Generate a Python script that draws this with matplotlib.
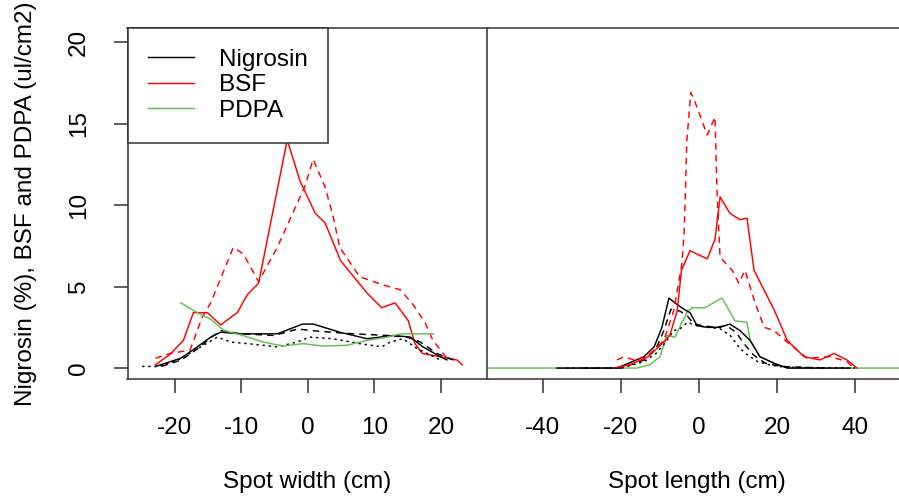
import matplotlib
matplotlib.use("Agg")
import matplotlib.pyplot as plt
from matplotlib.lines import Line2D

# ---- data ----
# left panel: across the spot (cm)
w_nig1_x = [-22.9, -19.1, -16.6, -14.6, -13.1, -10.1, -4.6, -0.8, 0.8, 4.8, 8.9, 12.8, 15.4, 17.3, 19.9, 20.9]
w_nig1_y = [0.1, 0.6, 1.3, 1.9, 2.2, 2.1, 2.1, 2.7, 2.7, 2.2, 1.8, 2.0, 1.9, 1.3, 0.7, 0.5]
w_nig2_x = [-22.0, -19.0, -16.5, -14.5, -13.0, -10.0, -5.0, -1.5, 0.5, 3.5, 6.9, 11.9, 14.9, 16.9, 19.4, 21.8]
w_nig2_y = [0.1, 0.5, 1.2, 1.9, 2.3, 2.1, 2.0, 2.4, 2.3, 2.2, 2.1, 2.0, 1.9, 1.6, 0.9, 0.5]
w_nig3_x = [-24.9, -22.5, -19.5, -16.5, -13.6, -11.6, -6.7, -4.6, -1.6, 0.3, 3.8, 7.8, 11.1, 12.4, 14.3, 16.4, 17.9, 19.9]
w_nig3_y = [0.1, 0.1, 0.5, 1.2, 1.9, 1.6, 1.4, 1.3, 1.6, 1.9, 1.8, 1.5, 1.3, 1.6, 1.8, 1.2, 0.9, 0.5]
w_bsf1_x = [-22.9, -20.7, -18.7, -17.2, -15.1, -13.1, -10.6, -9.1, -7.4, -3.1, -1.2, 1.1, 2.6, 4.9,
            8.9, 11.1, 13.1, 15.1, 16.1, 17.2, 22.4, 23.2]
w_bsf1_y = [0.2, 0.85, 1.7, 3.4, 3.4, 2.65, 3.4, 4.5, 5.2, 14.0, 11.5, 9.5, 8.9, 6.6,
            4.6, 3.7, 4.0, 2.9, 1.5, 0.9, 0.5, 0.2]
w_bsf2_x = [-22.9, -20.7, -17.7, -15.9, -14.6, -13.4, -11.2, -9.7, -7.4, -4.6, -1.6, -0.4, 0.8, 2.6,
            3.8, 4.8, 7.8, 11.3, 13.9, 15.8, 17.6, 18.8, 20.9, 22.1]
w_bsf2_y = [0.6, 0.9, 1.1, 3.1, 4.0, 5.2, 7.4, 7.0, 5.3, 7.4, 10.1, 11.2, 12.8, 11.1,
            9.3, 7.4, 5.6, 5.1, 4.8, 3.9, 2.8, 1.7, 0.6, 0.5]
w_pdpa_x = [-19.1, -16.6, -14.6, -12.6, -10.6, -6.7, -3.7, -0.7, 2.3, 5.9, 8.9, 11.9, 13.9, 18.9]
w_pdpa_y = [4.0, 3.4, 3.0, 2.3, 2.1, 1.6, 1.35, 1.5, 1.35, 1.4, 1.7, 1.9, 2.1, 2.1]

# right panel: along the spot (cm)
l_nig1_x = [-36.4, -21, -14.1, -11.5, -9.5, -7.7, -6.2, -3.8, -2.3, -0.5, 2.1, 5.4, 7.9, 10.5,
            13.1, 15.6, 19.2, 22.6, 38.7]
l_nig1_y = [0, 0, 0.7, 1.3, 2.5, 4.3, 4.0, 3.6, 3.4, 2.6, 2.5, 2.5, 2.7, 2.3,
            1.7, 0.7, 0.3, 0, 0]
l_nig2_x = [-30, -20, -14, -11, -9, -7.2, -4.9, -3, -1.3, 1, 4, 7, 9.5, 11.5, 14, 17, 21, 32]
l_nig2_y = [0, 0, 0.5, 1.2, 2.3, 3.6, 3.5, 3.2, 2.7, 2.6, 2.5, 2.6, 2.2, 1.5, 0.8, 0.3, 0.1, 0]
l_nig3_x = [-34, -20, -14, -11, -8.5, -6.5, -4.9, -3, -0.5, 2.5, 5.5, 8, 10.5, 12.5, 15, 18, 22, 40]
l_nig3_y = [0, 0, 0.4, 0.9, 1.6, 2.3, 2.4, 2.8, 2.6, 2.5, 2.4, 2.0, 1.2, 0.8, 0.4, 0.2, 0.05, 0]
l_bsf1_x = [-21, -17.7, -13, -9.5, -7.5, -5.6, -4.5, -2.3, 2.1, 4.1, 5.4, 7.9, 10.5, 12.3, 14.1,
            19.2, 22.6, 26.9, 31.0, 34.6, 37.9, 40.5]
l_bsf1_y = [0.05, 0.2, 0.7, 1.5, 2.0, 3.5, 6.0, 7.2, 6.7, 7.9, 10.5, 9.5, 9.1, 9.2, 6.0,
            3.6, 1.7, 0.7, 0.5, 0.9, 0.5, 0]
l_bsf2_x = [-21, -19.2, -16.7, -13.3, -9, -6.5, -4.4, -3.8, -3.1, -2.1, -1.0, 2.1, 4.1, 4.6, 5.4,
            8.5, 10.2, 11.8, 14.1, 16.7, 19.2, 22.6, 27.7, 33.6, 37.9, 39.7]
l_bsf2_y = [0.5, 0.7, 0.5, 0.7, 1.7, 3.5, 6.4, 8.3, 14.0, 16.9, 16.3, 14.3, 15.4, 10.9, 6.8,
            6.0, 5.2, 6.0, 4.2, 2.5, 2.3, 1.6, 0.6, 0.7, 0.4, 0]
l_pdpa_x = [-56, -16, -12.6, -10, -8.2, -6.2, -3.1, -1.8, 1.5, 5.9, 9.2, 12.3, 13.1, 15.6, 20, 24, 56]
l_pdpa_y = [0, 0, 0.2, 0.7, 2.0, 1.9, 3.4, 3.7, 3.7, 4.3, 2.9, 2.8, 1.7, 0.7, 0.2, 0, 0]

legend_labels = ["Nigrosin", "BSF", "PDPA"]
width_ticks = [-20, -10, 0, 10, 20]
length_ticks = [-40, -20, 0, 20, 40]
y_ticks = [0, 5, 10, 15, 20]


def draw_chart():
    plt.rcParams['font.family'] = ['Liberation Sans', 'DejaVu Sans']
    plt.rcParams['axes.unicode_minus'] = False
    fs = 17.5
    c_nig = "black"
    c_bsf = "#ff0000"
    c_pdpa = "#5cc24c"
    dash = (0, (4.5, 3.5))
    dot = (0, (1.6, 2.6))
    lw = 1.05

    fig = plt.figure(figsize=(8.99, 4.98), dpi=100)
    W, H = 899.0, 498.0
    ax1 = fig.add_axes([127.5 / W, 1 - 379 / H, 360 / W, 351 / H])
    ax2 = fig.add_axes([487.5 / W, 1 - 379 / H, 423 / W, 351 / H])

    # left panel
    ax1.plot(w_bsf1_x, w_bsf1_y, color=c_bsf, lw=lw)
    ax1.plot(w_bsf2_x, w_bsf2_y, color=c_bsf, lw=lw, linestyle=dash)
    ax1.plot(w_nig1_x, w_nig1_y, color=c_nig, lw=lw)
    ax1.plot(w_nig2_x, w_nig2_y, color=c_nig, lw=lw, linestyle=dash)
    ax1.plot(w_nig3_x, w_nig3_y, color=c_nig, lw=lw, linestyle=dot)
    ax1.plot(w_pdpa_x, w_pdpa_y, color=c_pdpa, lw=lw)

    # right panel
    ax2.plot(l_pdpa_x, l_pdpa_y, color=c_pdpa, lw=lw)
    ax2.plot(l_nig1_x, l_nig1_y, color=c_nig, lw=lw)
    ax2.plot(l_nig2_x, l_nig2_y, color=c_nig, lw=lw, linestyle=dash)
    ax2.plot(l_nig3_x, l_nig3_y, color=c_nig, lw=lw, linestyle=dot)
    ax2.plot(l_bsf1_x, l_bsf1_y, color=c_bsf, lw=lw)
    ax2.plot(l_bsf2_x, l_bsf2_y, color=c_bsf, lw=lw, linestyle=dash)

    ax1.set_xlim(-27.1, 27.0)
    ax2.set_xlim(-54.2, 54.2)
    for ax in (ax1, ax2):
        ax.set_ylim(-0.67, 20.86)
        for s in ax.spines.values():
            s.set_color("#333333")
            s.set_linewidth(1.1)
        ax.tick_params(axis='x', length=10, width=1.1, color="#333333",
                       labelsize=fs, pad=17)

    ax1.set_xticks(width_ticks)
    ax2.set_xticks(length_ticks)
    ax1.set_yticks(y_ticks)
    ax1.tick_params(axis='y', length=10, width=1.1, color="#333333",
                    labelsize=fs, pad=17, labelrotation=90)
    for t in ax1.get_yticklabels():
        t.set_verticalalignment('center')
    ax2.set_yticks([])

    # axis titles, placed where the reference has them
    ax1.set_xlabel("Spot width (cm)", fontsize=fs, va='center')
    ax2.set_xlabel("Spot length (cm)", fontsize=fs, va='center')
    y_lab = (379 - 482) / 351.0
    ax1.xaxis.set_label_coords(0.5, y_lab)
    ax2.xaxis.set_label_coords((697 - 487.5) / 423, y_lab)
    ax1.set_ylabel("Nigrosin (%), BSF and PDPA (ul/cm2)", fontsize=fs, va='center')
    ax1.yaxis.set_label_coords((26 - 127.5) / 360, 0.5)

    handles = [Line2D([], [], color=c, lw=lw) for c in (c_nig, c_bsf, c_pdpa)]
    leg = ax1.legend(handles, legend_labels, loc='upper left', bbox_to_anchor=(0, 1),
                     borderaxespad=0, fancybox=False, framealpha=1, edgecolor="#333333",
                     fontsize=fs, handlelength=1.9, handletextpad=1.0,
                     labelspacing=0.15, borderpad=0.85)
    leg.get_frame().set_linewidth(1.1)

    fig.savefig("out.png", dpi=100)


if __name__ == "__main__":
    draw_chart()
